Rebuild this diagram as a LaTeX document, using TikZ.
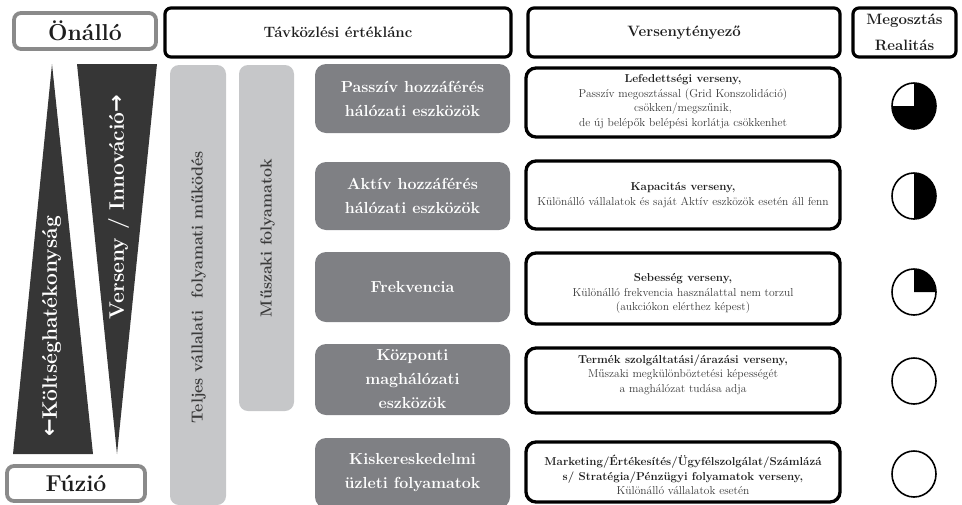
\documentclass[tikz,border=0pt]{standalone}
\usepackage{fontspec}
\newfontfamily\arrowfont{DejaVu Sans}
\usetikzlibrary{shapes.geometric}
\definecolor{trigray}{HTML}{363636}
\definecolor{colgray}{HTML}{C6C7C9}
\definecolor{boxgray}{HTML}{7F8084}
\definecolor{framegray}{HTML}{8A8A8A}
\definecolor{txt}{HTML}{1E1E1E}
\definecolor{softtxt}{HTML}{3A3A3A}
\newcommand\setfs[2]{\fontsize{#1}{#2}\selectfont}
\begin{document}
\begin{tikzpicture}[x=1pt,y=-1pt,
  hdr/.style={draw=black, line width=3.2pt, rounded corners=6pt, fill=white, inner sep=0pt,
    minimum height=49pt, font=\bfseries\setfs{15}{26}, text=txt, align=center},
  endbox/.style={draw=framegray, line width=3.8pt, rounded corners=7pt, fill=white, inner sep=0pt,
    font=\bfseries\setfs{23}{27}, text=txt},
  col/.style={fill=colgray, rounded corners=9pt, inner sep=0pt},
  coltext/.style={font=\bfseries\setfs{16}{18}, text=softtxt, rotate=90, inner sep=0pt},
  chain/.style={fill=boxgray, rounded corners=11pt, minimum width=195pt, inner sep=0pt,
    text=white, font=\bfseries\setfs{16}{24}, align=center},
  desc/.style={draw=black, line width=3.3pt, rounded corners=10pt, fill=white,
    minimum width=314pt, inner sep=0pt},
  desctext/.style={align=center, font=\setfs{11.5}{14.5}, text=softtxt, inner sep=0pt},
  tritext/.style={text=white, font=\bfseries\setfs{21}{24}, rotate=90, inner sep=0pt},
  ring/.style={ellipse, draw=black, line width=1.6pt, minimum width=44pt, minimum height=46pt, inner sep=0pt}
]
\path[use as bounding box] (0,0) rectangle (962,504);

% header row
\node[endbox, minimum width=142pt, minimum height=36pt] (onallo) at (85,31) {Önálló};
\node[hdr, minimum width=346pt] (tav) at (338,32.5) {Távközlési értéklánc};
\node[hdr, minimum width=312pt] (vers) at (684,32.5) {Versenytényező};
\node[hdr, minimum width=103pt] (megoszt) at (904.5,32.5) {Megosztás\\Realitás};

% triangles
\fill[trigray] (52,64) -- (93,454) -- (13,454) -- cycle;
\fill[trigray] (77,64) -- (157,64) -- (117,454) -- cycle;
\node[tritext] (koltseg) at (51.5,326.5) {{\arrowfont\bfseries ←}Költséghatékonyság};
\node[tritext] (innov) at (118.5,207) {Verseny / Innováció{\arrowfont\bfseries →}};

\node[endbox, minimum width=138pt, minimum height=35pt] (fuzio) at (76,483.5) {Fúzió};

% light columns
\node[col, minimum width=56pt, minimum height=440pt] (teljes) at (198,285) {};
\node[coltext] (teljest) at (198.5,287) {Teljes vállalati~~folyamati működés};
\node[col, minimum width=55pt, minimum height=346pt] (muszaki) at (266.5,238) {};
\node[coltext] (muszakit) at (267.5,238) {Műszaki folyamatok};

% value chain boxes
\node[chain, minimum height=69pt] (c1) at (412.5,98.5) {Passzív hozzáférés\\hálózati eszközök};
\node[chain, minimum height=68pt] (c2) at (412.5,196) {Aktív hozzáférés\\hálózati eszközök};
\node[chain, minimum height=70pt] (c3) at (412.5,287) {Frekvencia};
\node[chain, minimum height=71pt] (c4) at (412.5,379.5) {Központi\\maghálózati\\eszközök};
\node[chain, minimum height=70pt] (c5) at (412.5,473) {Kiskereskedelmi\\üzleti folyamatok};

% description boxes
\node[desc, minimum height=69pt] (d1) at (683,102.5) {};
\node[desc, minimum height=68pt] (d2) at (683,195) {};
\node[desc, minimum height=71pt] (d3) at (683,288.5) {};
\node[desc, minimum height=65pt] (d4) at (683,380.5) {};
\node[desc, minimum height=60pt] (d5) at (683,472) {};

\node[desctext] (d1t) at ([yshift=1pt]d1.center) {{\bfseries\color{txt}Lefedettségi verseny,}\\Passzív megosztással (Grid Konszolidáció)\\csökken/megszűnik,\\de új belépők belépési korlátja csökkenhet};
\node[desctext] (d2t) at (d2.center) {{\bfseries\color{txt}Kapacitás verseny,}\\Különálló vállalatok és saját Aktív eszközök esetén áll fenn};
\node[desctext] (d3t) at ([yshift=-5pt]d3.center) {{\bfseries\color{txt}Sebesség verseny,}\\Különálló frekvencia használattal nem torzul\\(aukciókon elérthez képest)};
\node[desctext] (d4t) at ([yshift=6pt]d4.center) {{\bfseries\color{txt}Termék szolgáltatási/árazási verseny,}\\Műszaki megkülönböztetési képességét\\a maghálózat tudása adja};
\node[desctext] (d5t) at ([yshift=-3pt]d5.center) {{\bfseries\color{txt}Marketing/Értékesítés/Ügyfélszolgálat/Számlázá}\\{\bfseries\color{txt}s/ Stratégia/Pénzügyi folyamatok verseny,}\\Különálló vállalatok esetén};

% realism discs
\coordinate (p1) at (914,106);
\coordinate (p2) at (914,196);
\coordinate (p3) at (914,292);
\coordinate (p4) at (914,381);
\coordinate (p5) at (914,474);
\fill (p1) -- +(270:22 and 23) arc[start angle=270, end angle=540, x radius=22, y radius=23] -- cycle;
\fill (p2) -- +(-90:22 and 23) arc[start angle=-90, end angle=90, x radius=22, y radius=23] -- cycle;
\fill (p3) -- +(-90:22 and 23) arc[start angle=-90, end angle=0, x radius=22, y radius=23] -- cycle;
\node[ring] (r1) at (p1) {};
\node[ring] (r2) at (p2) {};
\node[ring] (r3) at (p3) {};
\node[ring] (r4) at (p4) {};
\node[ring] (r5) at (p5) {};
\end{tikzpicture}
\end{document}
